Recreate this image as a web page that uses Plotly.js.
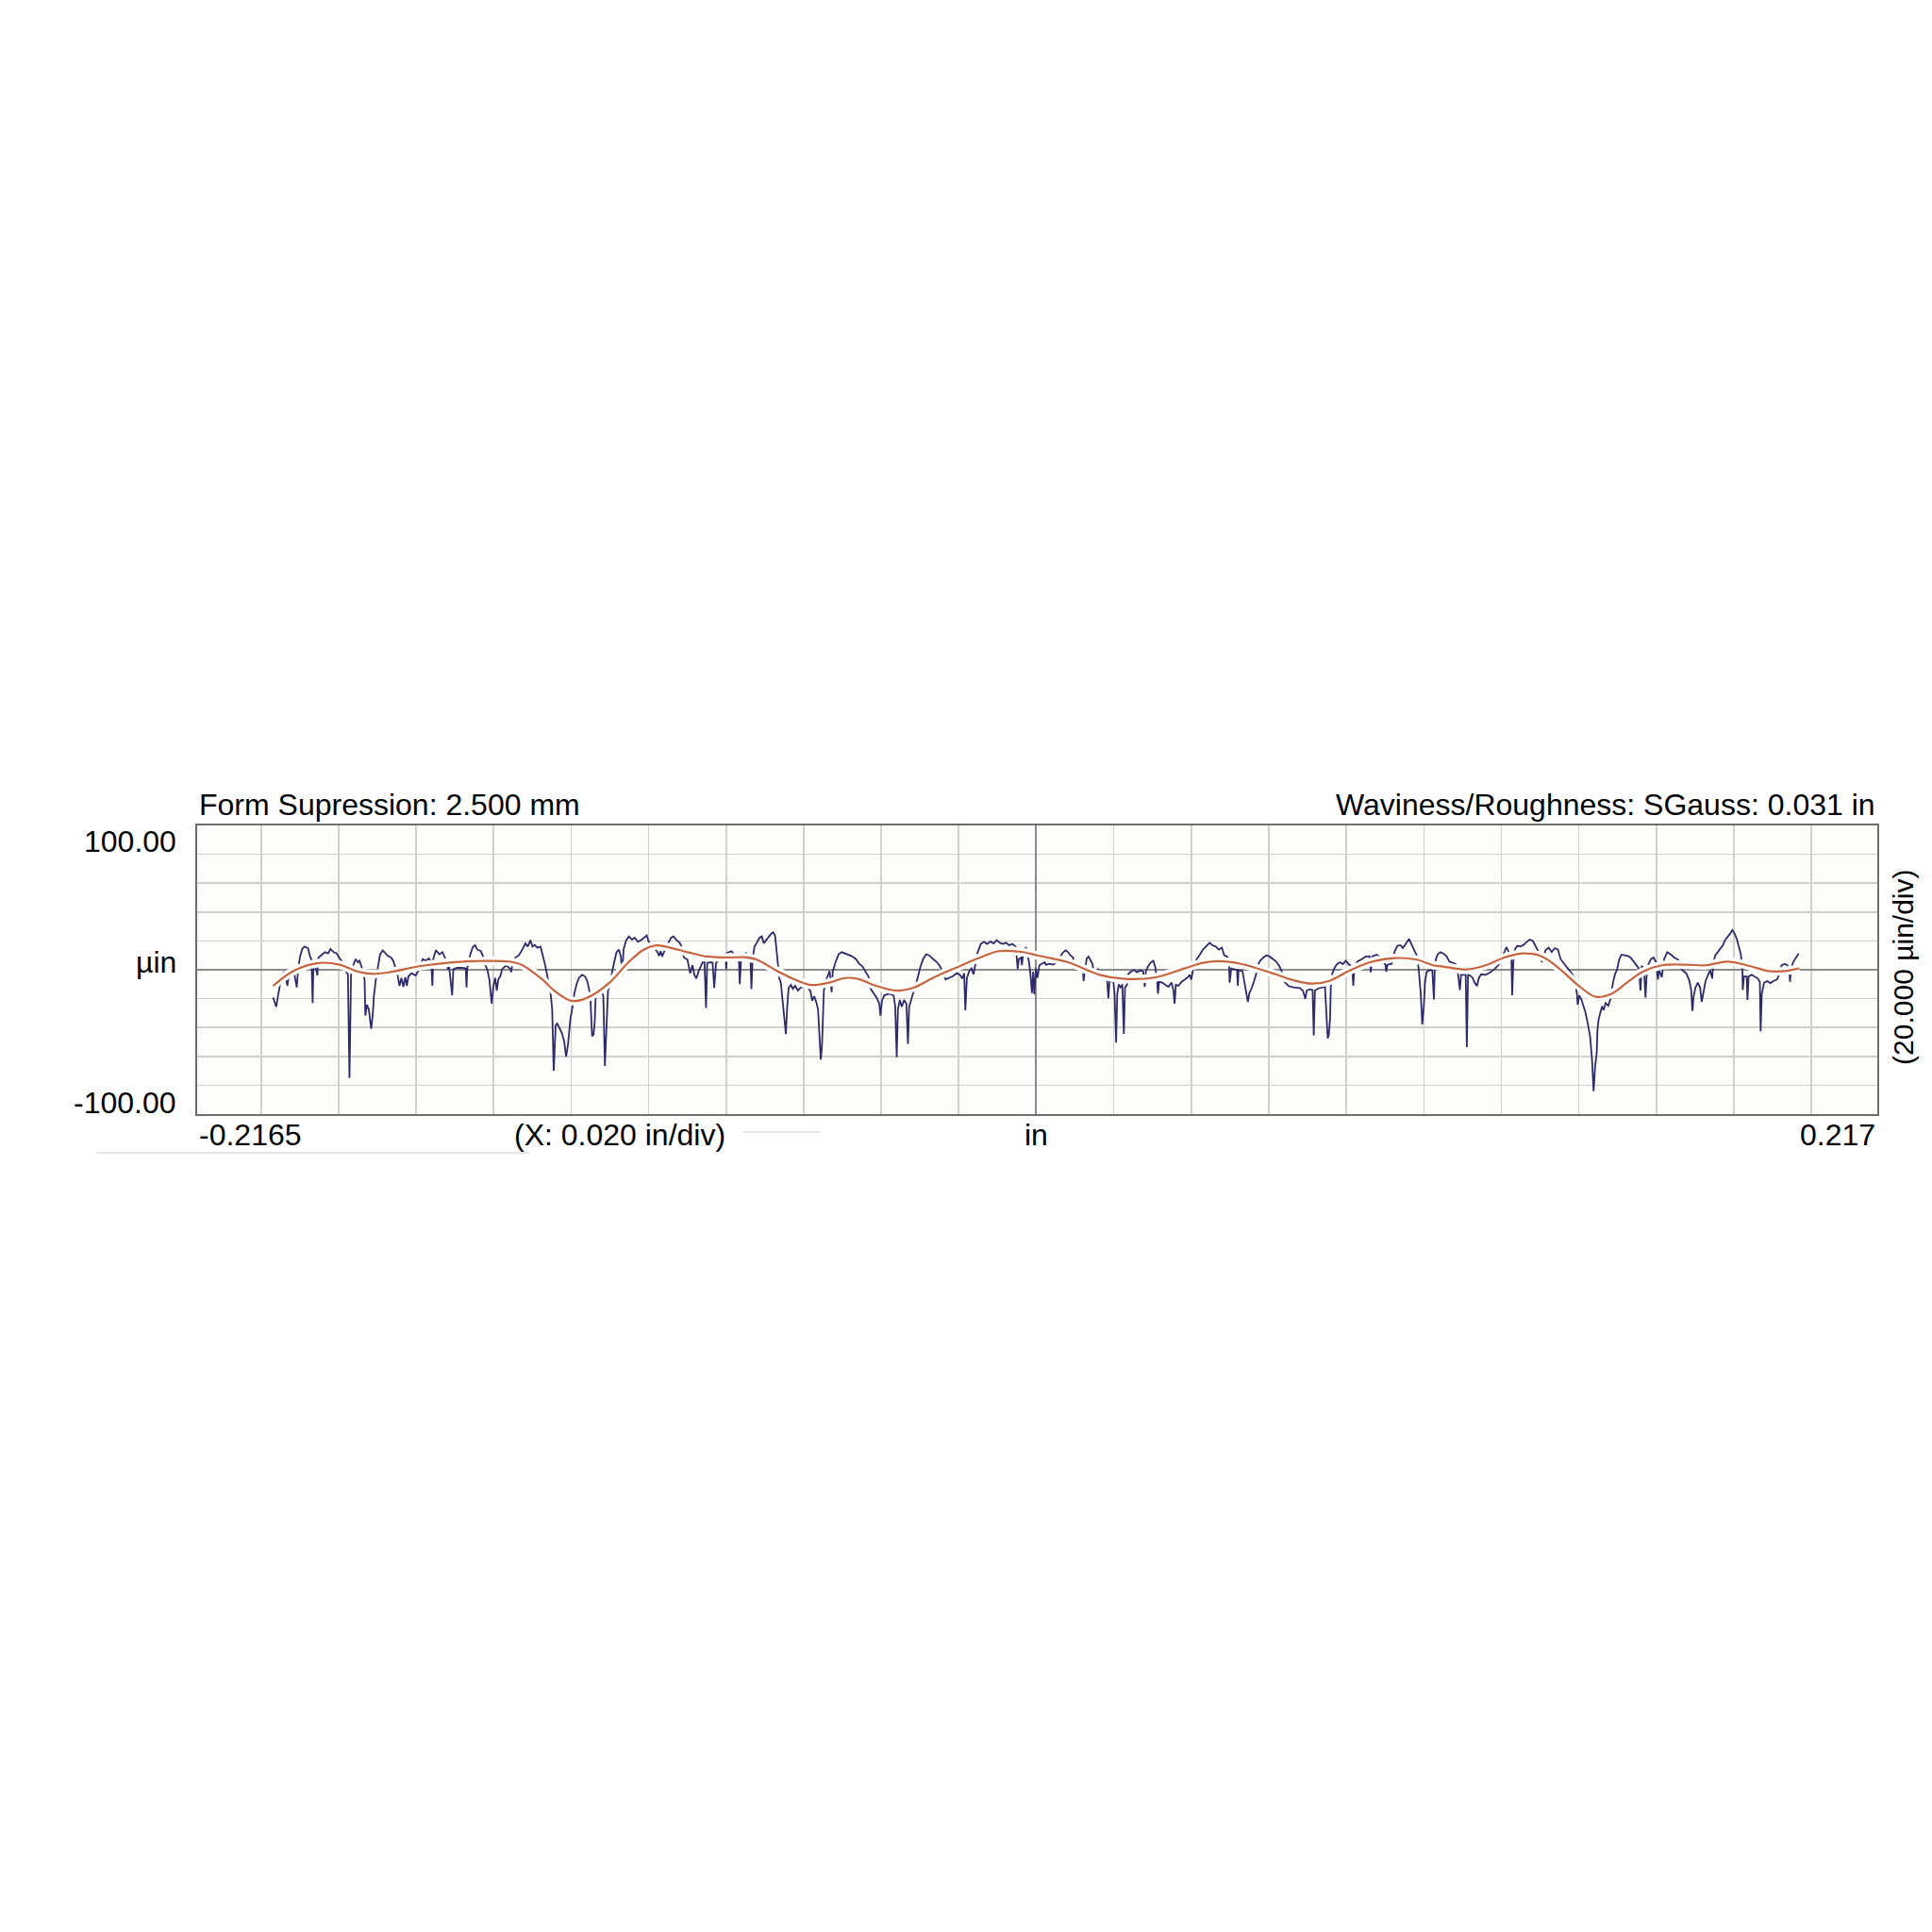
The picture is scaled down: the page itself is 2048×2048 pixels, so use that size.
<!DOCTYPE html>
<html>
<head>
<meta charset="utf-8">
<script src="https://cdn.plot.ly/plotly-3.0.1.min.js"></script>
<style>
  html, body { margin: 0; padding: 0; background: #ffffff; }
  #chart { width: 2048px; height: 2048px; }
</style>
</head>
<body>
<div id="chart"></div>
<script>
// measured profile, x in inches, height in µin
const profileX = [
  -0.1969,-0.1961,-0.1954,-0.1948,-0.1940,-0.1932,-0.1928,-0.1916,-0.1908,-0.1905,
  -0.1900,-0.1894,-0.1888,-0.1879,-0.1873,-0.1870,-0.1867,-0.1865,-0.1857,-0.1855,
  -0.1852,-0.1843,-0.1835,-0.1827,-0.1821,-0.1813,-0.1805,-0.1797,-0.1790,-0.1781,
  -0.1776,-0.1772,-0.1768,-0.1762,-0.1756,-0.1750,-0.1746,-0.1740,-0.1733,-0.1731,
  -0.1727,-0.1722,-0.1716,-0.1712,-0.1709,-0.1704,-0.1698,-0.1693,-0.1686,-0.1680,
  -0.1673,-0.1665,-0.1659,-0.1654,-0.1648,-0.1643,-0.1638,-0.1633,-0.1628,-0.1624,
  -0.1620,-0.1612,-0.1601,-0.1591,-0.1583,-0.1575,-0.1567,-0.1561,-0.1558,-0.1556,
  -0.1549,-0.1540,-0.1532,-0.1526,-0.1518,-0.1515,-0.1507,-0.1504,-0.1494,-0.1482,
  -0.1472,-0.1470,-0.1468,-0.1461,-0.1454,-0.1448,-0.1442,-0.1433,-0.1428,-0.1421,
  -0.1416,-0.1411,-0.1405,-0.1401,-0.1396,-0.1392,-0.1388,-0.1383,-0.1378,-0.1368,
  -0.1356,-0.1355,-0.1352,-0.1344,-0.1335,-0.1326,-0.1318,-0.1312,-0.1305,-0.1300,
  -0.1294,-0.1287,-0.1279,-0.1273,-0.1267,-0.1259,-0.1253,-0.1249,-0.1245,-0.1240,
  -0.1236,-0.1230,-0.1224,-0.1218,-0.1213,-0.1208,-0.1202,-0.1197,-0.1192,-0.1186,
  -0.1180,-0.1172,-0.1164,-0.1158,-0.1153,-0.1150,-0.1146,-0.1142,-0.1139,-0.1137,
  -0.1132,-0.1121,-0.1117,-0.1113,-0.1109,-0.1105,-0.1099,-0.1095,-0.1089,-0.1083,
  -0.1077,-0.1072,-0.1068,-0.1065,-0.1058,-0.1051,-0.1043,-0.1036,-0.1028,-0.1020,
  -0.1012,-0.1005,-0.1000,
  -0.0993,-0.0985,-0.0977,-0.0973,-0.0969,-0.0965,-0.0958,-0.0948,-0.0942,-0.0936,
  -0.0928,-0.0920,-0.0916,-0.0909,-0.0900,-0.0893,-0.0887,-0.0882,-0.0877,-0.0871,
  -0.0865,-0.0861,-0.0856,-0.0852,-0.0849,-0.0839,-0.0835,-0.0831,-0.0826,-0.0814,
  -0.0802,-0.0800,-0.0797,-0.0786,-0.0767,-0.0765,-0.0762,-0.0749,-0.0737,-0.0735,
  -0.0732,-0.0727,-0.0721,-0.0714,-0.0708,-0.0703,-0.0697,-0.0690,-0.0684,-0.0679,
  -0.0674,-0.0671,-0.0667,-0.0663,-0.0659,-0.0655,-0.0649,-0.0646,-0.0643,-0.0639,
  -0.0633,-0.0628,-0.0622,-0.0615,-0.0609,-0.0595,-0.0583,-0.0578,-0.0573,-0.0568,
  -0.0563,-0.0559,-0.0556,-0.0553,-0.0550,-0.0548,-0.0542,-0.0537,-0.0533,-0.0528,
  -0.0525,-0.0518,-0.0510,-0.0502,-0.0490,-0.0477,-0.0465,-0.0457,-0.0449,-0.0441,
  -0.0433,-0.0427,-0.0419,-0.0411,-0.0405,-0.0402,-0.0398,-0.0392,-0.0380,-0.0368,
  -0.0364,-0.0360,-0.0357,-0.0352,-0.0347,-0.0341,-0.0335,-0.0331,-0.0328,-0.0323,
  -0.0317,-0.0311,-0.0305,-0.0299,-0.0292,-0.0284,-0.0276,-0.0268,-0.0258,-0.0250,
  -0.0243,-0.0234,-0.0226,-0.0216,-0.0205,-0.0197,-0.0191,-0.0186,-0.0183,-0.0179,
  -0.0173,-0.0167,-0.0162,-0.0157,-0.0151,-0.0143,-0.0135,-0.0127,-0.0118,-0.0110,
  -0.0102,-0.0094,-0.0086,-0.0078,-0.0070,-0.0062,-0.0053,-0.0050,-0.0048,-0.0045,
  -0.0039,-0.0037,-0.0035,-0.0027,-0.0020,-0.0016,-0.0011,-0.0008,-0.0005,-0.0001,
  0.0003,0.0008,0.0015,0.0022,
  0.0025,0.0035,0.0043,0.0053,0.0064,0.0070,0.0076,0.0082,0.0088,0.0095,
  0.0099,0.0106,0.0114,0.0121,0.0122,0.0125,0.0130,0.0135,0.0140,0.0145,
  0.0149,0.0159,0.0172,0.0183,0.0186,0.0189,0.0199,0.0202,0.0206,0.0209,
  0.0213,0.0218,0.0222,0.0226,0.0229,0.0234,0.0237,0.0244,0.0252,0.0260,
  0.0268,0.0276,0.0280,0.0283,0.0289,0.0296,0.0302,0.0307,0.0312,0.0314,
  0.0317,0.0325,0.0333,0.0341,0.0349,0.0354,0.0357,0.0360,0.0367,0.0375,
  0.0383,0.0391,0.0396,0.0400,0.0404,0.0413,0.0421,0.0430,0.0438,0.0447,
  0.0455,0.0463,0.0471,0.0479,0.0485,0.0492,0.0497,0.0499,0.0503,0.0511,
  0.0518,0.0520,0.0522,0.0532,0.0537,0.0542,0.0546,0.0550,0.0556,0.0562,
  0.0567,0.0572,0.0578,0.0586,0.0594,0.0602,0.0610,0.0619,0.0627,0.0633,
  0.0641,0.0651,0.0664,0.0680,0.0688,0.0694,0.0698,0.0706,0.0713,0.0716,
  0.0719,0.0730,0.0745,0.0748,0.0752,0.0755,0.0758,0.0760,0.0764,0.0771,
  0.0777,0.0784,0.0791,0.0799,0.0807,0.0815,0.0818,0.0821,0.0829,0.0840,
  0.0850,0.0860,0.0863,0.0867,0.0878,0.0889,0.0901,0.0903,0.0906,0.0917,
  0.0925,0.0932,0.0940,0.0946,0.0954,0.0962,0.0970,0.0978,0.0983,0.0987,
  0.0992,0.0996,0.1000,0.1003,
  0.1007,0.1014,0.1022,0.1026,0.1028,0.1031,0.1036,0.1043,0.1050,0.1058,
  0.1066,0.1074,0.1082,0.1088,0.1093,0.1096,0.1108,0.1111,0.1114,0.1119,
  0.1126,0.1131,0.1137,0.1142,0.1148,0.1160,0.1172,0.1182,0.1192,0.1202,
  0.1208,0.1213,0.1218,0.1226,0.1228,0.1231,0.1235,0.1241,0.1249,0.1257,
  0.1265,0.1273,0.1281,0.1288,0.1294,0.1305,0.1314,0.1322,0.1330,0.1338,
  0.1346,0.1353,0.1359,0.1367,0.1375,0.1384,0.1390,0.1395,0.1397,0.1401,
  0.1407,0.1413,0.1417,0.1423,0.1429,0.1434,0.1438,0.1442,0.1446,0.1448,
  0.1451,0.1455,0.1460,0.1464,0.1469,0.1476,0.1482,0.1488,0.1494,0.1498,
  0.1504,0.1510,0.1518,0.1526,0.1534,0.1542,0.1551,0.1555,0.1559,0.1562,
  0.1568,0.1572,0.1575,0.1580,0.1586,0.1593,0.1599,0.1604,0.1607,0.1614,
  0.1620,0.1628,0.1637,0.1646,0.1656,0.1666,0.1677,0.1685,0.1690,0.1693,
  0.1696,0.1701,0.1707,0.1713,0.1717,0.1722,0.1727,0.1734,0.1739,0.1744,
  0.1747,0.1752,0.1758,0.1764,0.1772,0.1777,0.1784,0.1790,0.1796,0.1802,
  0.1808,0.1813,0.1818,0.1822,0.1823,0.1826,0.1833,0.1835,0.1838,0.1846,
  0.1854,0.1862,0.1867,0.1869,0.1872,0.1878,0.1886,0.1894,0.1902,0.1911,
  0.1915,0.1923,0.1932,0.1938,0.1943,0.1945,0.1947,0.1953,0.1959,0.1967
];
const profileY = [
  -19.2,-25.7,-14.4,-5.7,-1.3,-11.1,-2.4,-0.2,-12.2,-1.3,
  8.5,14.4,16.1,15.0,8.5,7.4,-23.1,5.2,-0.9,-3.9,
  8.5,10.7,12.2,11.3,14.4,12.2,11.3,7.8,5.2,-0.9,
  -3.5,-75.0,-3.5,3.5,7.4,5.2,6.3,1.3,-6.8,-31.8,
  -24.2,-27.5,-41.0,-31.4,-18.3,-6.8,3.1,10.7,13.5,11.8,
  9.6,8.5,6.3,2.0,-3.5,-11.1,-5.7,-11.8,-5.2,-11.1,
  -4.6,-2.4,-3.9,0.9,7.4,6.3,7.8,5.2,-11.1,7.4,
  13.5,10.7,12.2,8.5,0.4,2.0,-17.7,0.4,1.3,1.3,
  0.9,-12.2,1.3,10.0,15.7,17.0,14.0,12.9,9.6,3.1,
  -0.2,-6.8,-23.5,-11.8,-5.7,-14.4,-6.8,-4.6,0.4,3.1,
  0.4,-1.7,3.1,8.5,10.0,14.0,18.3,16.1,20.5,16.1,
  17.2,15.3,16.1,9.6,3.1,-7.8,-16.6,-27.5,-70.0,-38.4,
  -37.3,-40.5,-43.8,-49.7,-60.2,-51.4,-34.0,-26.4,-16.6,-10.0,
  -5.7,-3.5,-4.6,-8.3,-14.4,-22.0,-46.0,-44.5,-35.1,-19.8,
  -14.4,-14.4,-18.7,-66.7,-39.5,-14.4,-10.5,-2.4,5.2,12.2,
  14.0,9.6,-3.5,14.0,20.5,23.1,20.9,22.2,19.4,20.5,
  22.2,23.8,19.4,
  16.6,15.0,12.2,9.6,12.9,9.2,14.0,19.4,22.2,23.1,
  20.5,18.7,16.6,8.5,7.0,-2.4,3.1,-3.5,-6.1,-0.9,
  2.6,5.2,5.2,-26.4,4.8,5.2,4.8,-12.6,4.8,8.5,
  11.3,0.4,11.8,12.9,5.7,-10.0,5.7,11.8,5.2,-13.3,
  7.4,16.1,18.7,22.2,23.1,18.3,20.5,23.1,24.9,25.9,
  23.8,16.1,3.1,-5.7,-8.9,-20.9,-35.1,-44.5,-27.5,-12.6,
  -10.5,-13.3,-11.1,-14.4,-12.6,-11.1,-14.4,-21.4,-18.3,-22.0,
  -27.5,-49.3,-62.3,-53.6,-34.0,-14.4,-6.8,-3.1,-0.9,-15.5,
  -1.3,5.2,10.7,12.2,10.7,9.6,7.4,4.1,2.6,-1.3,
  -4.6,-13.3,-16.6,-19.8,-23.5,-31.8,-21.4,-17.7,-16.6,-17.7,
  -25.3,-60.6,-27.5,-20.9,-25.7,-20.9,-23.5,-51.4,-25.7,-21.4,
  -16.1,-11.1,-4.6,2.0,7.4,10.7,10.0,7.8,5.7,3.1,
  -0.2,-6.8,-5.7,-4.6,-2.4,-3.5,-6.1,-2.4,-28.1,-5.7,
  -0.9,0.9,-3.1,3.1,12.2,17.9,19.4,17.9,19.6,18.3,
  20.5,18.7,17.9,18.7,17.0,17.9,16.1,7.4,0.4,7.4,
  8.5,3.1,8.5,15.7,7.4,-0.2,-16.1,-1.3,-17.0,0.9,
  -5.7,3.1,4.1,5.2,
  3.5,4.1,3.5,5.2,10.0,12.2,13.5,12.2,10.0,8.5,
  1.3,-0.2,0.4,-0.9,-7.8,-0.9,7.8,9.2,6.3,4.1,
  -3.5,0.4,-4.6,-7.4,-19.8,-7.8,-8.3,-16.6,-50.4,-16.6,
  -10.0,-12.6,-10.0,-44.5,-12.2,-10.5,-3.1,-1.3,-0.2,-1.7,
  -0.4,-1.3,-11.8,-0.9,2.6,5.2,6.3,2.0,-8.3,-16.6,
  -8.3,-8.9,-10.5,-11.8,-8.9,-14.4,-23.5,-10.5,-11.1,-8.3,
  -6.8,-5.2,-3.5,-6.8,-0.9,7.0,10.0,14.0,16.1,18.7,
  17.0,16.1,14.0,15.3,10.0,9.2,7.4,-8.9,0.9,0.4,
  -0.2,-11.1,-0.2,-0.9,-8.9,-16.1,-22.2,-16.1,-12.6,-7.8,
  -3.5,3.5,6.3,8.5,10.0,9.2,7.4,5.7,2.6,-0.9,
  -8.3,-11.3,-12.2,-12.6,-14.4,-20.1,-14.4,-13.5,-14.0,-45.6,
  -14.4,-12.6,-11.8,-27.5,-47.5,-44.9,-34.0,-12.2,-2.4,2.0,
  4.1,5.2,3.9,6.3,3.5,2.6,-11.1,2.0,5.7,7.4,
  9.2,9.2,-1.7,9.2,10.5,8.5,3.5,-1.3,3.5,4.1,
  12.9,16.6,17.0,15.0,18.3,21.4,16.6,11.8,9.2,-0.2,
  -16.6,-37.9,-25.3,-8.9,
  -1.7,-0.2,-0.4,-20.5,-1.3,7.4,10.7,12.2,11.3,9.6,
  5.7,4.8,3.9,-2.4,-14.0,-3.5,-3.5,-53.6,-3.5,-3.9,
  -5.7,-8.9,-11.3,-5.7,-3.1,-3.5,-1.7,0.4,3.1,8.5,
  12.2,15.7,12.9,7.4,-17.7,6.3,14.0,16.6,16.1,17.2,
  19.2,20.9,20.1,16.1,13.5,5.2,13.5,15.3,12.2,15.0,
  14.0,7.4,5.2,3.1,-0.4,-3.5,-6.8,-16.6,-24.2,-17.7,
  -20.9,-26.4,-29.6,-37.3,-46.0,-62.3,-84.1,-66.7,-58.0,-41.6,
  -34.4,-30.1,-25.3,-27.9,-23.1,-24.9,-19.8,-8.9,-2.4,-0.4,
  7.0,10.5,10.0,9.6,8.3,5.2,2.0,0.9,-14.4,2.6,
  1.3,-19.2,-3.5,4.1,7.4,8.5,5.2,-6.8,-0.2,-5.2,
  7.4,12.2,10.7,8.5,7.0,-0.2,-2.4,-7.4,-14.4,-28.6,
  -18.7,-12.2,-8.9,-12.6,-22.2,-14.4,-7.8,-3.1,-0.4,-6.1,
  5.2,10.0,12.2,15.0,17.2,20.5,22.7,24.9,27.5,24.9,
  20.9,16.6,10.7,-0.2,-14.0,-4.6,-4.6,-20.9,-4.6,-3.5,
  -4.8,-6.1,-8.3,-42.7,-16.6,-8.9,-7.8,-9.2,-7.8,-6.8,
  -4.6,3.1,4.1,3.1,-1.3,-8.3,0.4,5.2,7.9,11.3
];

// waviness (SGauss filtered) line
const wavinessX = [
  -0.1969,-0.1912,-0.1847,-0.1798,-0.1750,-0.1713,-0.1669,-0.1588,-0.1506,-0.1425,
  -0.1360,-0.1328,-0.1279,-0.1239,-0.1198,-0.1157,-0.1101,-0.1052,-0.1012,-0.0980,
  -0.0957,-0.0900,-0.0851,-0.0794,-0.0754,-0.0721,-0.0673,-0.0632,-0.0583,-0.0534,
  -0.0494,-0.0461,-0.0413,-0.0360,-0.0315,-0.0267,-0.0202,-0.0145,-0.0096,-0.0039,
  0.0005,0.0082,0.0163,0.0228,0.0309,0.0382,0.0430,0.0471,0.0528,0.0609,
  0.0666,0.0710,0.0755,0.0811,0.0868,0.0925,0.0982,0.1022,0.1050,0.1111,
  0.1159,0.1208,0.1257,0.1305,0.1354,0.1395,0.1443,0.1484,0.1524,0.1565,
  0.1614,0.1679,0.1727,0.1784,0.1841,0.1889,0.1930,0.1968
];
const wavinessY = [
  -11.1,-0.2,4.8,3.5,-1.3,-2.8,-1.7,2.6,5.2,6.1,
  5.7,3.5,-5.7,-15.5,-21.6,-19.2,-8.9,5.2,14.0,16.9,
  16.1,12.2,9.2,8.5,8.7,7.0,-0.2,-5.7,-10.5,-8.9,
  -5.7,-6.3,-11.1,-14.4,-12.2,-5.7,2.0,8.5,12.9,12.4,
  9.8,5.2,-3.5,-6.3,-5.2,0.9,4.8,5.9,4.1,-2.4,
  -7.4,-9.6,-7.8,-0.2,5.7,8.1,7.0,3.3,2.2,0.2,
  3.1,8.5,11.3,9.2,-0.2,-10.0,-18.7,-16.6,-8.9,-1.3,
  3.1,3.5,3.1,5.7,2.6,-0.9,-0.9,0.9
];

const font = { family: "Liberation Sans, Arial, sans-serif", size: 32, color: "#000000" };

function label(text, x, y, xanchor, extra) {
  return Object.assign({
    text: text, x: x, y: y, xref: "paper", yref: "paper",
    xanchor: xanchor, yanchor: "middle", showarrow: false, font: font
  }, extra || {});
}

const traces = [
  {
    x: profileX, y: profileY, type: "scatter", mode: "lines",
    line: { color: "#2e2b6b", width: 1.8 }, hoverinfo: "skip"
  },
  {
    // white halo round the waviness line
    x: wavinessX, y: wavinessY, type: "scatter", mode: "lines",
    line: { color: "#ffffff", width: 9, shape: "spline" }, hoverinfo: "skip"
  },
  {
    x: wavinessX, y: wavinessY, type: "scatter", mode: "lines",
    line: { color: "#c8643e", width: 2.2, shape: "spline" }, hoverinfo: "skip"
  }
];

const layout = {
  width: 2048,
  height: 2048,
  autosize: false,
  showlegend: false,
  paper_bgcolor: "#ffffff",
  plot_bgcolor: "#fdfdf9",
  margin: { l: 209, r: 58, t: 875, b: 867, pad: 0 },
  xaxis: {
    range: [-0.2165, 0.217],
    tick0: 0, dtick: 0.02,
    showticklabels: false, ticks: "",
    showgrid: true, gridcolor: "#d0d0cc", gridwidth: 1.6,
    zeroline: true, zerolinecolor: "#8c8c8c", zerolinewidth: 2,
    showline: true, linecolor: "#6e6e6e", linewidth: 2, mirror: true
  },
  yaxis: {
    range: [-100, 100],
    tick0: 0, dtick: 20,
    showticklabels: false, ticks: "",
    showgrid: true, gridcolor: "#d0d0cc", gridwidth: 1.6,
    zeroline: true, zerolinecolor: "#8c8c8c", zerolinewidth: 2,
    showline: true, linecolor: "#6e6e6e", linewidth: 2, mirror: true
  },
  annotations: [
    label("Form Supression: 2.500 mm", 0, 1.072, "left"),
    label("Waviness/Roughness: SGauss: 0.031 in", 1, 1.072, "right"),
    label("100.00", 0, 0.944, "right", { xshift: -20 }),
    label("µin", 0, 0.526, "right", { xshift: -20 }),
    label("-100.00", 0, 0.039, "right", { xshift: -20 }),
    label("-0.2165", 0, -0.072, "left"),
    label("(X: 0.020 in/div)", 0.1875, -0.072, "left"),
    label("in", 0.4992, -0.072, "center"),
    label("0.217", 1, -0.072, "right"),
    label("(20.000 µin/div)", 1.0157, 0.51, "center", { textangle: -90, font: Object.assign({}, font, { size: 30 }) })
  ],
  shapes: [
    { type: "line", xref: "paper", yref: "paper", x0: -0.060, x1: 0.1976, y0: -0.134, y1: -0.134,
      line: { color: "#dcdcdc", width: 1.5 } },
    { type: "line", xref: "paper", yref: "paper", x0: 0.3245, x1: 0.3711, y0: -0.062, y1: -0.062,
      line: { color: "#d0d0d0", width: 1 } }
  ]
};

Plotly.newPlot("chart", traces, layout, { displayModeBar: false, staticPlot: true });
</script>
</body>
</html>
